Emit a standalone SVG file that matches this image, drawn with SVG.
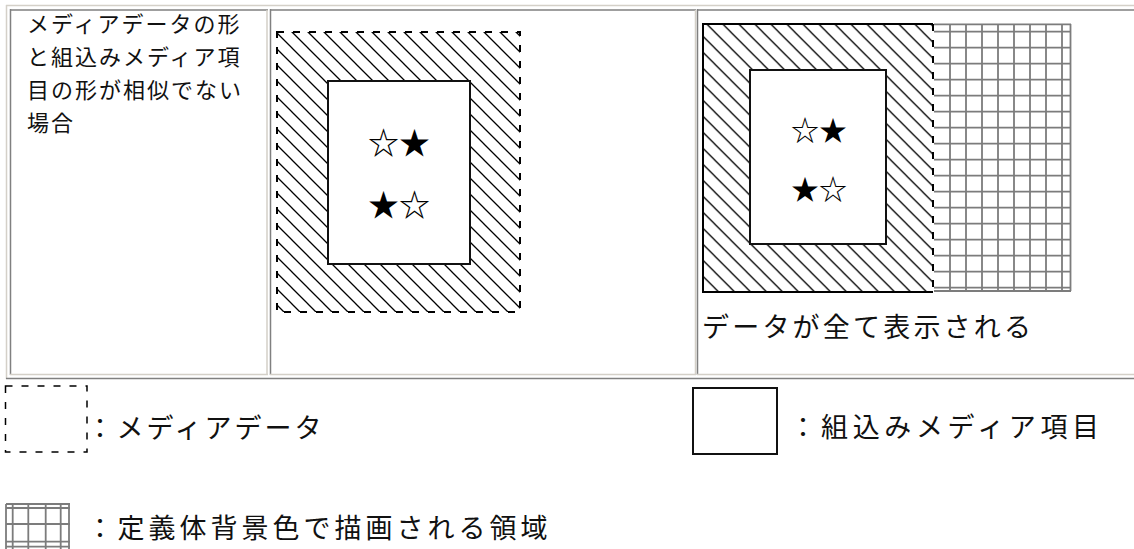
<svg xmlns="http://www.w3.org/2000/svg" width="1134" height="549" viewBox="0 0 1134 549">
<style>
.light{stroke:#d4d0c8;stroke-width:1.5;fill:none}
.dark{stroke:#808080;stroke-width:1.5;fill:none}
.solid{fill:#fff;stroke:#111;stroke-width:2}
.dash{stroke:#000;stroke-width:2;stroke-dasharray:7 9;fill:none}
.grid{stroke:#7c7c7c;stroke-width:1.8;fill:none}
.t1{font-family:"Noto Sans CJK JP","Noto Sans CJK SC",sans-serif;font-size:22px;letter-spacing:2px;fill:#111}
.lg{font-family:"Noto Sans CJK JP","Noto Sans CJK SC",sans-serif;font-size:27px;fill:#111}
.star{font-family:"Noto Sans CJK JP","DejaVu Sans",sans-serif;fill:#000}
</style>
<defs>
<pattern id="hatchA" patternUnits="userSpaceOnUse" width="16" height="16" x="4" y="0">
<path d="M-2,-2 L18,18 M-2,14 L2,18 M14,-2 L18,2" stroke="#000" stroke-width="1.3"/>
</pattern>
<pattern id="hatchB" patternUnits="userSpaceOnUse" width="16" height="16" x="10.7" y="0">
<path d="M-2,-2 L18,18 M-2,14 L2,18 M14,-2 L18,2" stroke="#000" stroke-width="1.3"/>
</pattern>
</defs>
<rect width="1134" height="549" fill="#fff"/>

<g id="table">
<path class="light" d="M6,5.5 H1134 M6.5,5 V379"/>
<path class="dark" d="M6,378.5 H1134"/>
</g>

<g id="cell-1">
<path class="dark" d="M10,10 H268 M10.5,9 V375"/>
<path class="light" d="M267,10 V375 M10,374.5 H268"/>
<text class="t1" x="27" y="32">メディアデータの形</text>
<text class="t1" x="27" y="65">と組込みメディア項</text>
<text class="t1" x="27" y="98">目の形が相似でない</text>
<text class="t1" x="27" y="131">場合</text>
</g>

<g id="cell-2">
<path class="dark" d="M270,10 H696 M270.5,9 V375"/>
<path class="light" d="M695.5,10 V375 M270,374.5 H696"/>
<rect x="277" y="32" width="243" height="280" fill="url(#hatchA)"/>
<rect class="dash" x="277" y="32" width="243" height="280"/>
<rect class="solid" x="328" y="81" width="142" height="183"/>
<text class="star" font-size="31" x="368" y="154">☆★</text>
<text class="star" font-size="31" x="368" y="216">★☆</text>
</g>

<g id="cell-3">
<path class="dark" d="M697,10 H1134 M697.5,9 V375"/>
<path class="light" d="M697,374.5 H1134"/>
<rect x="703" y="24" width="230" height="268" fill="url(#hatchB)"/>
<path d="M933,24 H703 V292 H933" stroke="#000" stroke-width="2" fill="none"/>
<path class="dash" d="M933,24 V292"/>
<rect class="solid" x="750" y="70" width="136" height="174"/>
<text class="star" font-size="28" x="791" y="141">☆★</text>
<text class="star" font-size="28" x="791" y="200">★☆</text>
<path class="grid" d="M934,24.3 H1071 M934,31.7 H1071 M934,47.7 H1071 M934,63.7 H1071 M934,79.7 H1071 M934,95.7 H1071 M934,111.7 H1071 M934,127.7 H1071 M934,143.7 H1071 M934,159.7 H1071 M934,175.7 H1071 M934,191.7 H1071 M934,207.7 H1071 M934,223.7 H1071 M934,239.7 H1071 M934,255.7 H1071 M934,271.7 H1071 M934,287.7 H1071 M934,291 H1071 M950,24 V291 M966,24 V291 M982,24 V291 M998,24 V291 M1014,24 V291 M1030,24 V291 M1046,24 V291 M1062,24 V291 M1070.5,24 V291"/>
<text class="lg" x="702" y="337" letter-spacing="3.2">データが全て表示される</text>
</g>

<g id="legend-media-data">
<rect x="5.5" y="386" width="81.5" height="66" stroke="#000" stroke-width="1.5" stroke-dasharray="7 9" fill="none"/>
<text class="lg" x="86.5" y="438" letter-spacing="3">：メディアデータ</text>
</g>

<g id="legend-embedded-item">
<rect x="693" y="388" width="84" height="66" fill="none" stroke="#111" stroke-width="2"/>
<text class="lg" x="789.5" y="437" letter-spacing="4.6">：組込みメディア項目</text>
</g>

<g id="legend-background">
<path class="grid" stroke-width="2.2" d="M6,504 H70 M6,508 H70 M6,524 H70 M6,541.7 H70 M6,546.7 H70 M6,504 V549 M12.7,504 V549 M28.3,504 V549 M45.7,504 V549 M60.7,504 V549 M69,504 V549"/>
<text class="lg" x="86.5" y="538" letter-spacing="4">：定義体背景色で描画される領域</text>
</g>

<g id="connectors"/>
</svg>
